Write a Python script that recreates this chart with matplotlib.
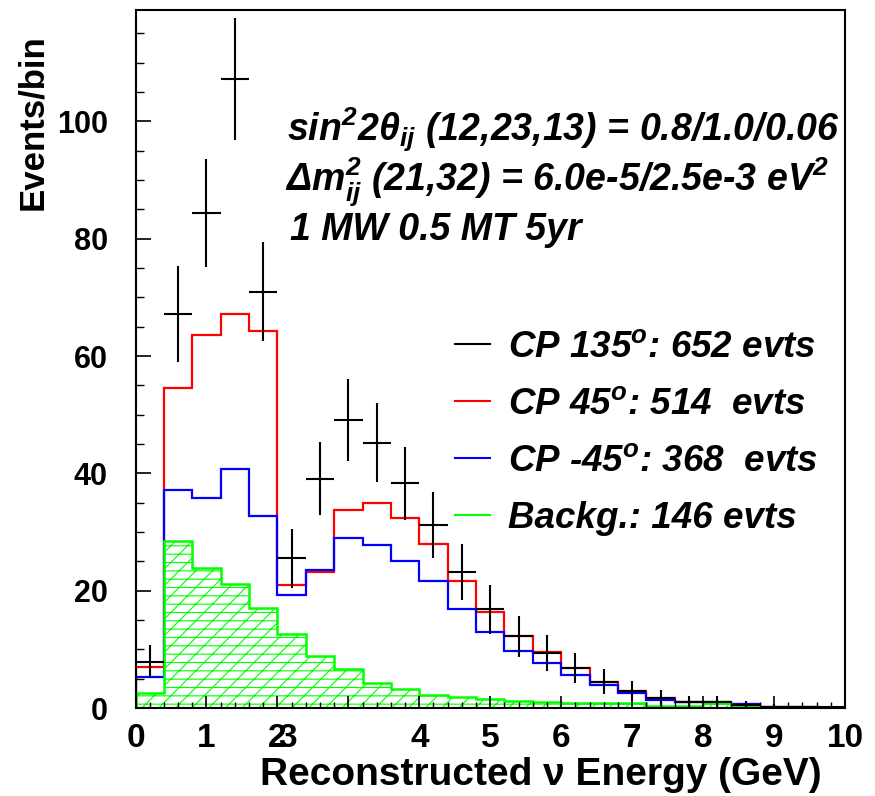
import matplotlib
matplotlib.use("Agg")
import matplotlib.pyplot as plt
import numpy as np
from matplotlib.lines import Line2D
from matplotlib.ticker import MultipleLocator

# bin edges of the reconstructed energy histogram (GeV)
edges = np.linspace(0, 10, 26)

# events per bin
cp135 = [7.9, 67.1, 84.4, 107.2, 71.0, 25.5, 39.1, 49.1, 45.2, 38.3, 31.2, 23.2, 16.8,
         12.2, 9.4, 6.8, 4.5, 2.9, 1.7, 1.0, 1.0, 0.5, 0.2, 0.1, 0.1]
cp45 = [7.0, 54.6, 63.6, 67.2, 64.2, 20.9, 23.2, 33.8, 35.0, 32.4, 27.9, 21.7, 16.3,
        12.2, 9.5, 6.9, 4.5, 2.9, 1.65, 1.05, 1.0, 0.6, 0.2, 0.2, 0.0]
cpm45 = [5.2, 37.2, 35.8, 40.8, 32.8, 19.3, 23.5, 28.9, 27.8, 25.1, 21.7, 16.8, 12.9,
         9.7, 7.7, 5.6, 3.9, 2.5, 1.4, 1.0, 1.0, 0.6, 0.15, 0.15, 0.0]
bkg = [2.5, 28.5, 23.9, 21.2, 17.0, 12.7, 8.8, 6.6, 4.3, 3.2, 2.2, 1.8, 1.5,
       1.25, 1.1, 0.8, 0.8, 0.8, 0.35, 0.35, 0.8, 0.35, 0.25, 0.1, 0.0]

legend_labels = ["CP 135$^{o}$: 652 evts", "CP 45$^{o}$: 514  evts",
                 "CP -45$^{o}$: 368  evts", "Backg.: 146 evts"]
x_tick_labels = ["0", "1", "2", "", "4", "5", "6", "7", "8", "9", "10"]

plt.rcParams["font.family"] = ["Liberation Sans", "DejaVu Sans"]
plt.rcParams["mathtext.fontset"] = "custom"
plt.rcParams["mathtext.rm"] = "Liberation Sans:bold:italic"
plt.rcParams["mathtext.it"] = "Liberation Sans:bold:italic"
plt.rcParams["mathtext.bf"] = "Liberation Sans:bold:italic"
plt.rcParams["hatch.linewidth"] = 0.8

fig = plt.figure(figsize=(8.75, 7.96), dpi=100)
ax = fig.add_axes([135.5 / 875, 1 - 708 / 796, (845 - 135.5) / 875, (708 - 10) / 796])

ax.stairs(cp45, edges, color="#ff0000", lw=1.6)
ax.stairs(cpm45, edges, color="#0000ff", lw=1.6)
ax.stairs(bkg, edges, fill=True, facecolor="none", edgecolor="#00ff00", hatch="--//", lw=0)
ax.stairs(bkg, edges, color="#00ff00", lw=1.8)

centers = 0.5 * (edges[:-1] + edges[1:])
ax.errorbar(centers, cp135, xerr=0.2, yerr=np.sqrt(cp135), fmt="none",
            ecolor="black", elinewidth=1.5, capsize=0)

ax.set_xlim(0, 10)
ax.set_ylim(0, 119)

ax.set_xticks(range(11))
ax.set_xticklabels(x_tick_labels)
ax.xaxis.set_minor_locator(MultipleLocator(0.2))
ax.yaxis.set_major_locator(MultipleLocator(20))
ax.yaxis.set_minor_locator(MultipleLocator(5))
ax.tick_params(which="both", direction="in", top=False, right=False)
ax.tick_params(axis="x", which="major", length=8.5, width=1.2, pad=11, labelsize=24)
ax.tick_params(axis="x", which="minor", length=4, width=1)
ax.tick_params(axis="y", which="major", length=10.8, width=1.2, pad=20, labelsize=22)
ax.tick_params(axis="y", which="minor", length=5.4, width=1)
for lbl in ax.get_xticklabels() + ax.get_yticklabels():
    lbl.set_fontweight("bold")
for sp in ax.spines.values():
    sp.set_linewidth(1.5)

# the misplaced "3" label of the original
ax.annotate("3", xy=(2.14, 0), xycoords=("data", "axes fraction"),
            xytext=(0, -11), textcoords="offset points",
            ha="center", va="top", fontsize=24, fontweight="bold")

fig.text(822 / 875, 1 - 775 / 796, "Reconstructed \u03bd Energy (GeV)",
         ha="right", va="center", fontsize=28, fontweight="bold")
fig.text(33 / 875, 1 - 34 / 796, "Events/bin", rotation=90,
         ha="center", va="top", fontsize=25, fontweight="bold")

info = dict(fontsize=27, fontweight="bold", style="italic", ha="left", va="center")
fig.text(287 / 875, 1 - 130 / 796, "sin$^{2}$2\u03b8$_{ij}$ (12,23,13) = 0.8/1.0/0.06", **info)
fig.text(285 / 875, 1 - 182 / 796, "\u0394m$_{ij}^{2}$ (21,32) = 6.0e-5/2.5e-3 eV$^{2}$", **info)
fig.text(290 / 875, 1 - 230 / 796, "1 MW 0.5 MT 5yr", **info)

handles = [Line2D([], [], color=c, lw=1.5) for c in ["black", "#ff0000", "#0000ff", "#00ff00"]]
ax.legend(handles, legend_labels, loc="upper left",
          bbox_to_anchor=(455 / 875, 1 - 330 / 796), bbox_transform=fig.transFigure,
          frameon=False, prop=dict(weight="bold", style="italic", size=26.5),
          handlelength=0.95, handletextpad=0.5, labelspacing=0.6,
          borderpad=0, borderaxespad=0)

fig.savefig("out.png", dpi=100)
